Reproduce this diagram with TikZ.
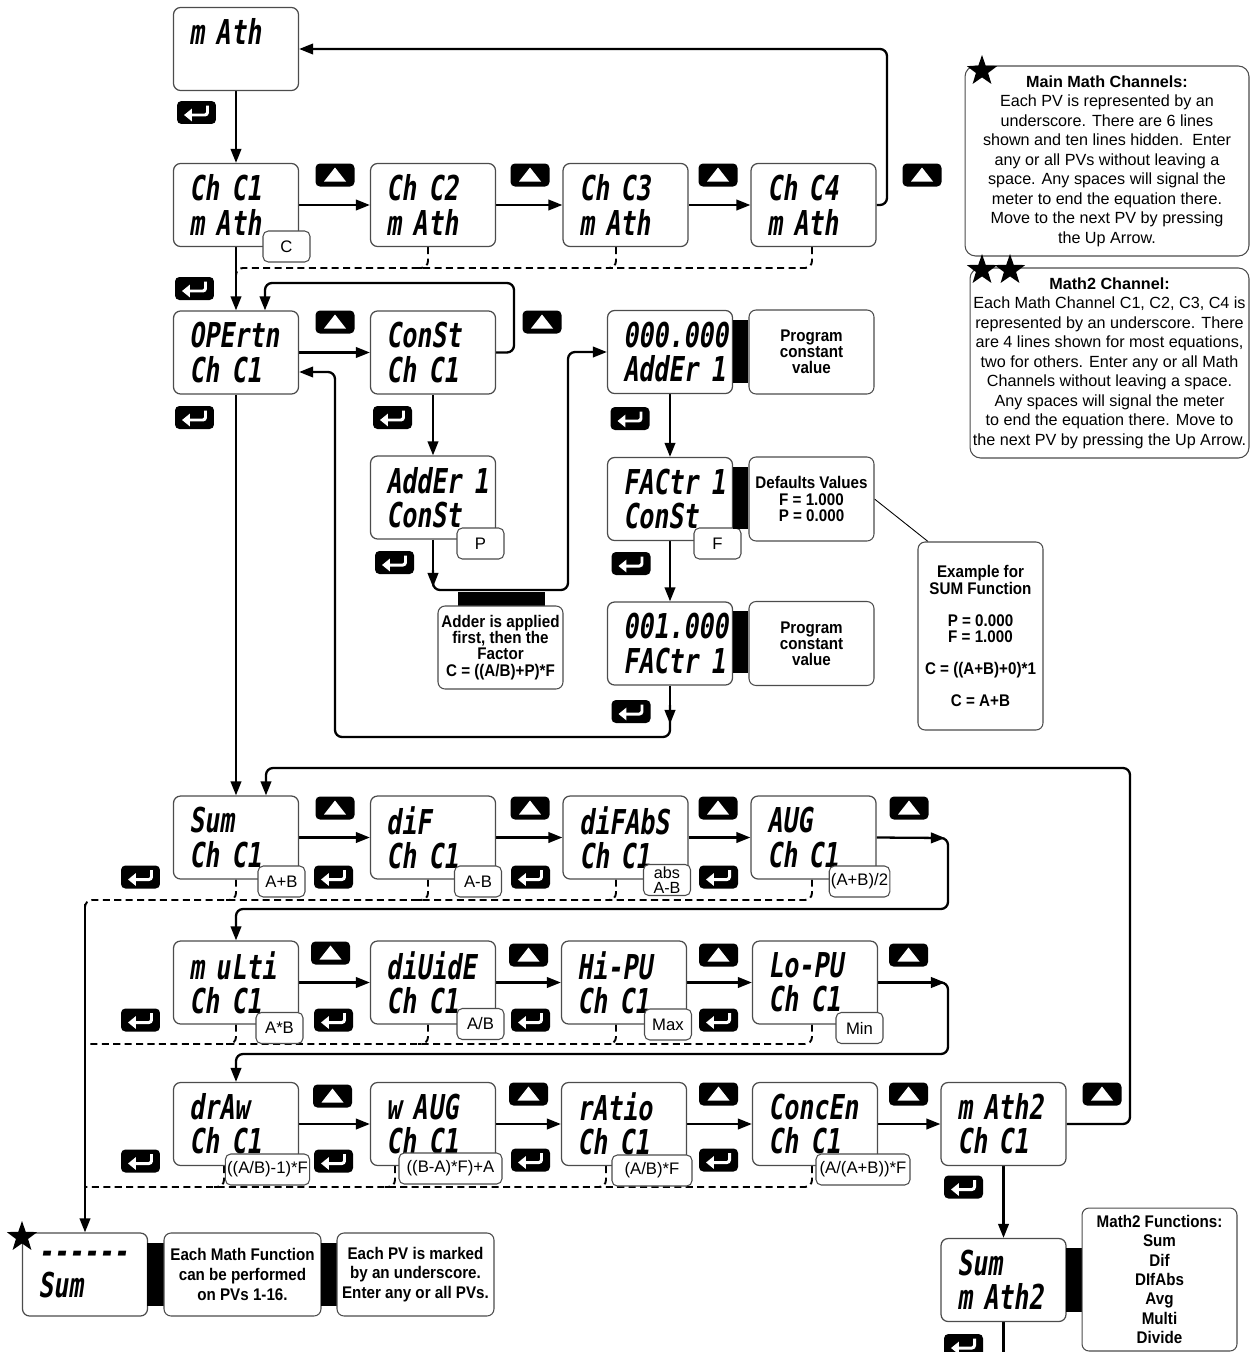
\documentclass[tikz,border=0pt]{standalone}
\usepackage{fontspec}
\setmainfont{Liberation Sans}
\newfontfamily\segfont{DejaVu Sans Mono}[FakeStretch=0.73,FakeSlant=0.15]
\newfontfamily\bnfont{Liberation Sans}[FakeStretch=0.9]
\usetikzlibrary{arrows.meta,shapes.geometric,calc}
\pgfdeclarelayer{bg}
\pgfsetlayers{bg,main}
\begin{document}
\begin{tikzpicture}[x=0.02cm,y=-0.02cm,
  disp/.style={draw=black!70, line width=0.7pt, rounded corners=4pt, fill=white,
    minimum width=2.5cm, minimum height=1.66cm, inner xsep=0.32cm, inner ysep=0pt,
    text width=1.86cm, align=left, font=\segfont\bfseries\fontsize{19.5}{19.5}\selectfont},
  tag/.style={draw=black!70, line width=0.6pt, rounded corners=3pt, fill=white,
    minimum width=0.94cm, minimum height=0.62cm, inner xsep=1pt, inner ysep=0pt,
    align=center, font=\fontsize{9.5}{9.5}\selectfont},
  note/.style={draw=black!70, line width=0.6pt, rounded corners=4pt, fill=white,
    align=center, inner sep=1pt, font=\bnfont\bfseries\fontsize{9.6}{9.2}\selectfont},
  textnote/.style={draw=black!70, line width=0.6pt, rounded corners=6pt, fill=white,
    align=center, inner sep=1pt, font=\fontsize{9.2}{11.1}\selectfont},
  bar/.style={fill=black, inner sep=0pt},
  upkey/.style={fill=black, rounded corners=2.5pt, minimum width=0.78cm, minimum height=0.46cm, inner sep=0pt,
    path picture={\fill[white, sharp corners] ([xshift=-0.22cm,yshift=-0.13cm]path picture bounding box.center)
      -- ([xshift=0.22cm,yshift=-0.13cm]path picture bounding box.center)
      -- ([yshift=0.15cm]path picture bounding box.center) -- cycle;}},
  enterkey/.style={fill=black, rounded corners=2.5pt, minimum width=0.78cm, minimum height=0.46cm, inner sep=0pt,
    path picture={\draw[white, line width=1.7pt, rounded corners=1.5pt, -{Triangle[length=4.5pt,width=7pt]}]
      ([xshift=0.22cm,yshift=0.14cm]path picture bounding box.center)
      -- ([xshift=0.22cm,yshift=-0.05cm]path picture bounding box.center)
      -- ([xshift=-0.25cm,yshift=-0.05cm]path picture bounding box.center);}},
  starmark/.style={star, star points=5, star point ratio=2.5, fill=black, inner sep=0pt, minimum size=0.64cm},
  conn/.style={line width=1.3pt, rounded corners=4pt, -{Triangle[length=8pt,width=6pt]}},
  plainline/.style={line width=1.3pt, rounded corners=4pt},
  dconn/.style={line width=1.1pt, rounded corners=4pt, dash pattern=on 4pt off 2.5pt}
]
\useasboundingbox (0,0) rectangle (1251,1352);

% ---------- display boxes ----------
\node[disp] (math0) at (236,49) {\mbox{m Ath}\\\mbox{}};
\node[disp] (ch1) at (236,205) {\mbox{Ch C1}\\\mbox{m Ath}};
\node[disp] (ch2) at (433,205) {\mbox{Ch C2}\\\mbox{m Ath}};
\node[disp] (ch3) at (625.5,205) {\mbox{Ch C3}\\\mbox{m Ath}};
\node[disp] (ch4) at (813.5,205) {\mbox{Ch C4}\\\mbox{m Ath}};
\node[disp] (oper) at (236,352.5) {\mbox{OPErtn}\\\mbox{Ch C1}};
\node[disp] (const) at (433,352.5) {\mbox{ConSt}\\\mbox{Ch C1}};
\node[disp] (adder) at (433,497.5) {\mbox{AddEr 1}\\\mbox{ConSt}};
\node[disp] (val1) at (670,352) {\mbox{000.000}\\\mbox{AddEr 1}};
\node[disp] (fact) at (670,499) {\mbox{FACtr 1}\\\mbox{ConSt}};
\node[disp] (val2) at (670,643.5) {\mbox{001.000}\\\mbox{FACtr 1}};
\node[disp] (sum) at (236,837.5) {\mbox{Sum}\\\mbox{Ch C1}};
\node[disp] (dif) at (433,837.5) {\mbox{diF}\\\mbox{Ch C1}};
\node[disp] (difabs) at (625.5,837.5) {\mbox{diFAbS}\\\mbox{Ch C1}};
\node[disp] (avg) at (813.5,837.5) {\mbox{AUG}\\\mbox{Ch C1}};
\node[disp] (multi) at (236,982.5) {\mbox{m uLti}\\\mbox{Ch C1}};
\node[disp] (divide) at (433,982.5) {\mbox{diUidE}\\\mbox{Ch C1}};
\node[disp] (hipu) at (624,982.5) {\mbox{Hi-PU}\\\mbox{Ch C1}};
\node[disp] (lopu) at (815,982.5) {\mbox{Lo-PU}\\\mbox{Ch C1}};
\node[disp] (draw) at (236,1124) {\mbox{drAw}\\\mbox{Ch C1}};
\node[disp] (wavg) at (433,1124) {\mbox{w AUG}\\\mbox{Ch C1}};
\node[disp] (ratio) at (624,1124) {\mbox{rAtio}\\\mbox{Ch C1}};
\node[disp] (concen) at (815,1124) {\mbox{ConcEn}\\\mbox{Ch C1}};
\node[disp] (math2) at (1003.5,1124) {\mbox{m Ath2}\\\mbox{Ch C1}};
\node[disp] (pvsum) at (85,1274.5) {\mbox{------}\\\mbox{Sum}};
\node[disp] (m2sum) at (1003.5,1280) {\mbox{Sum}\\\mbox{m Ath2}};

% ---------- tags ----------
\node[tag] (tC) at (286.5,246.5) {C};
\node[tag] (tP) at (480.5,543.5) {P};
\node[tag] (tF) at (717.5,543.5) {F};
\node[tag] (tsum) at (281.5,881.5) {A+B};
\node[tag] (tdif) at (478,881.5) {A-B};
\node[tag, font=\fontsize{9.2}{8.6}\selectfont] (tabs) at (667,880) {abs\\A-B};
\node[tag] (tavg) at (859.5,881.5) {(A+B)/2};
\node[tag] (tmul) at (279.5,1028) {A*B};
\node[tag] (tdiv) at (480.5,1024) {A/B};
\node[tag] (tmax) at (668,1024.5) {Max};
\node[tag] (tmin) at (859.5,1028) {Min};
\node[tag, minimum width=1.58cm] (tdraw) at (267.5,1169.5) {((A/B)-1)*F};
\node[tag, minimum width=2.06cm] (twavg) at (450.5,1168.5) {((B-A)*F)+A};
\node[tag, minimum width=1.6cm] (tratio) at (652,1170.5) {(A/B)*F};
\node[tag, minimum width=1.88cm] (tconc) at (863,1169.5) {(A/(A+B))*F};

% ---------- bars and notes ----------
\node[bar, minimum width=0.3cm, minimum height=1.26cm] (bar1) at (740.5,351.5) {};
\node[note, minimum width=2.5cm, minimum height=1.68cm] (prog1) at (811.5,352) {Program\\constant\\value};
\node[bar, minimum width=0.3cm, minimum height=1.24cm] (bar2) at (740.5,498) {};
\node[note, minimum width=2.5cm, minimum height=1.68cm] (defaults) at (811.5,499) {Defaults Values\\F = 1.000\\P = 0.000};
\node[bar, minimum width=0.3cm, minimum height=1.24cm] (bar3) at (740.5,642) {};
\node[note, minimum width=2.5cm, minimum height=1.68cm] (prog2) at (811.5,643.5) {Program\\constant\\value};
\node[bar, minimum width=1.74cm, minimum height=0.28cm] (abar) at (501.5,599) {};
\node[note, minimum width=2.5cm, minimum height=1.66cm] (addnote) at (500.5,647.5) {Adder is applied\\first, then the\\Factor\\C = ((A/B)+P)*F};
\node[note, minimum width=2.5cm, minimum height=3.76cm] (example) at (980.5,636) {Example for\\SUM Function\\[9pt]P = 0.000\\F = 1.000\\[9pt]C = ((A+B)+0)*1\\[9pt]C = A+B};
\node[textnote, minimum width=5.68cm, minimum height=3.8cm] (mainnote) at (1107,161) {\textbf{Main Math Channels:}\\Each PV is represented by an\\underscore. There are 6 lines\\shown and ten lines hidden.\ \ Enter\\any or all PVs without leaving a\\space. Any spaces will signal the\\meter to end the equation there.\\Move to the next PV by pressing\\the Up Arrow.};
\node[textnote, minimum width=5.58cm, minimum height=3.8cm] (m2note) at (1109.5,363) {\textbf{Math2 Channel:}\\Each Math Channel C1, C2, C3, C4 is\\represented by an underscore. There\\are 4 lines shown for most equations,\\two for others. Enter any or all Math\\Channels without leaving a space.\\Any spaces will signal the meter\\to end the equation there. Move to\\the next PV by pressing the Up Arrow.};
\node[bar, minimum width=0.34cm, minimum height=1.26cm] (bar4) at (155.5,1274.5) {};
\node[note, minimum width=3.14cm, minimum height=1.66cm, font=\bnfont\bfseries\fontsize{9.6}{11.3}\selectfont] (eachmath) at (242.5,1274.5) {Each Math Function\\can be performed\\on PVs 1-16.};
\node[bar, minimum width=0.32cm, minimum height=1.26cm] (bar5) at (329,1274.5) {};
\node[note, minimum width=3.14cm, minimum height=1.66cm, font=\bnfont\bfseries\fontsize{9.6}{11.3}\selectfont] (eachpv) at (415.5,1274.5) {Each PV is marked\\by an underscore.\\Enter any or all PVs.};
\node[bar, minimum width=0.32cm, minimum height=1.28cm] (bar6) at (1074,1280) {};
\node[note, minimum width=3.1cm, minimum height=2.86cm, font=\bnfont\bfseries\fontsize{9.6}{11}\selectfont] (m2funcs) at (1159.5,1279.5) {Math2 Functions:\\Sum\\Dif\\DIfAbs\\Avg\\Multi\\Divide};

% ---------- stars ----------
\node[starmark] (st1) at (982,71) {};
\node[starmark] (st2) at (982,270) {};
\node[starmark] (st3) at (1010,270) {};
\node[starmark] (st4) at (22,1237) {};

% ---------- keys ----------
\node[upkey] (u1) at (335,175) {};
\node[upkey] (u2) at (530,175) {};
\node[upkey] (u3) at (718,175) {};
\node[upkey] (u4) at (922,175) {};
\node[upkey] (u5) at (335,322) {};
\node[upkey] (u6) at (542,322) {};
\node[upkey] (u7) at (335,808) {};
\node[upkey] (u8) at (530,808) {};
\node[upkey] (u9) at (718,808) {};
\node[upkey] (u10) at (909,808) {};
\node[upkey] (u11) at (330.5,953) {};
\node[upkey] (u12) at (528.5,955) {};
\node[upkey] (u13) at (718.5,955) {};
\node[upkey] (u14) at (908.5,955) {};
\node[upkey] (u15) at (332.5,1096) {};
\node[upkey] (u16) at (528.5,1094) {};
\node[upkey] (u17) at (718.5,1094) {};
\node[upkey] (u18) at (908.5,1094) {};
\node[upkey] (u19) at (1102,1094) {};

\node[enterkey] (e1) at (196.5,112.5) {};
\node[enterkey] (e2) at (194.5,288.5) {};
\node[enterkey] (e3) at (194.5,417.5) {};
\node[enterkey] (e4) at (392.5,417.5) {};
\node[enterkey] (e5) at (394.5,562.5) {};
\node[enterkey] (e6) at (630,418.5) {};
\node[enterkey] (e7) at (631,563.5) {};
\node[enterkey] (e8) at (631,711.5) {};
\node[enterkey] (e9) at (140.5,877) {};
\node[enterkey] (e10) at (333.5,877) {};
\node[enterkey] (e11) at (530.5,877) {};
\node[enterkey] (e12) at (718.5,877) {};
\node[enterkey] (e13) at (140.5,1020) {};
\node[enterkey] (e14) at (333.5,1020) {};
\node[enterkey] (e15) at (530.5,1020) {};
\node[enterkey] (e16) at (718.5,1020) {};
\node[enterkey] (e17) at (140.5,1161) {};
\node[enterkey] (e18) at (333.5,1161) {};
\node[enterkey] (e19) at (530.5,1160) {};
\node[enterkey] (e20) at (718.5,1160) {};
\node[enterkey] (e21) at (963.5,1187) {};
\node[enterkey] (e22) at (963.5,1345.5) {};

% ---------- connectors ----------
\begin{pgfonlayer}{bg}
\draw[conn] (math0.south) -- (ch1.north);
\draw[conn] (ch1.east) -- (ch2.west);
\draw[conn] (ch2.east) -- (ch3.west);
\draw[conn] (ch3.east) -- (ch4.west);
\draw[conn] (ch4.east) -- (887,205) -- (887,49) -- (math0.east);
\draw[dconn] (ch4.south -| 812,0) -- (812,268) -- (236,268) -- (236,292);
\draw[dconn] (ch2.south -| 428,0) -- (428,268) -- (418,268);
\draw[dconn] (ch3.south -| 616,0) -- (616,268) -- (606,268);
\draw[conn] (ch1.south) -- (oper.north);
\draw[conn] (oper.east) -- (const.west);
\draw[conn] (const.east) -- (514,352.5) -- (514,283) -- (265,283) -- (265,0 |- oper.north);
\draw[conn] (const.south) -- (adder.north);
\draw[conn] (adder.south) -- (433,587);
\draw[conn] (433,570) -- (433,590) -- (568,590) -- (568,352) -- (val1.west);
\draw[conn] (val1.south) -- (fact.north);
\draw[conn] (fact.south) -- (val2.north);
\draw[conn] (val2.south) -- (670,724);
\draw[conn] (670,705) -- (670,737) -- (335,737) -- (335,372) -- (oper.east |- 0,372);
\draw[line width=0.5pt] (defaults.east) -- (928,0 |- example.north);
\draw[conn] (oper.south) -- (sum.north);
\draw[conn] (math2.east) -- (1130,1124) -- (1130,768) -- (266,768) -- (266,0 |- sum.north);
% row 1
\draw[conn] (sum.east) -- (dif.west);
\draw[conn] (dif.east) -- (difabs.west);
\draw[conn] (difabs.east) -- (avg.west);
\draw[conn] (avg.east) -- (945,838);
\draw[conn] (930,838) -- (948,838) -- (948,909) -- (236,909) -- (multi.north);
% row 2
\draw[conn] (multi.east) -- (divide.west);
\draw[conn] (divide.east) -- (hipu.west);
\draw[conn] (hipu.east) -- (lopu.west);
\draw[conn] (lopu.east) -- (945,982.5);
\draw[conn] (930,982.5) -- (948,982.5) -- (948,1054) -- (236,1054) -- (draw.north);
% row 3
\draw[conn] (draw.east) -- (wavg.west);
\draw[conn] (wavg.east) -- (ratio.west);
\draw[conn] (ratio.east) -- (concen.west);
\draw[conn] (concen.east) -- (math2.west);
\draw[conn] (math2.south) -- (m2sum.north);
\draw[plainline] (m2sum.south) -- (1003.5,1365);
% dashed returns
\draw[dconn] (avg.south -| 812,0) -- (812,900) -- (85,900) -- (85,916);
\draw[dconn] (sum.south) -- (236,900) -- (226,900);
\draw[dconn] (dif.south -| 428,0) -- (428,900) -- (418,900);
\draw[dconn] (difabs.south -| 616,0) -- (616,900) -- (606,900);
\draw[conn] (85,904) -- (pvsum.north);
\draw[dconn] (lopu.south -| 812,0) -- (812,1044) -- (85,1044);
\draw[dconn] (multi.south) -- (236,1044) -- (226,1044);
\draw[dconn] (divide.south -| 428,0) -- (428,1044) -- (418,1044);
\draw[dconn] (hipu.south -| 616,0) -- (616,1044) -- (606,1044);
\draw[dconn] (concen.south -| 812,0) -- (812,1187) -- (85,1187);
\draw[dconn] (draw.south -| 224,0) -- (224,1187) -- (214,1187);
\draw[dconn] (wavg.south -| 395,0) -- (395,1187) -- (385,1187);
\draw[dconn] (ratio.south -| 606,0) -- (606,1187) -- (596,1187);
\end{pgfonlayer}
\end{tikzpicture}
\end{document}
